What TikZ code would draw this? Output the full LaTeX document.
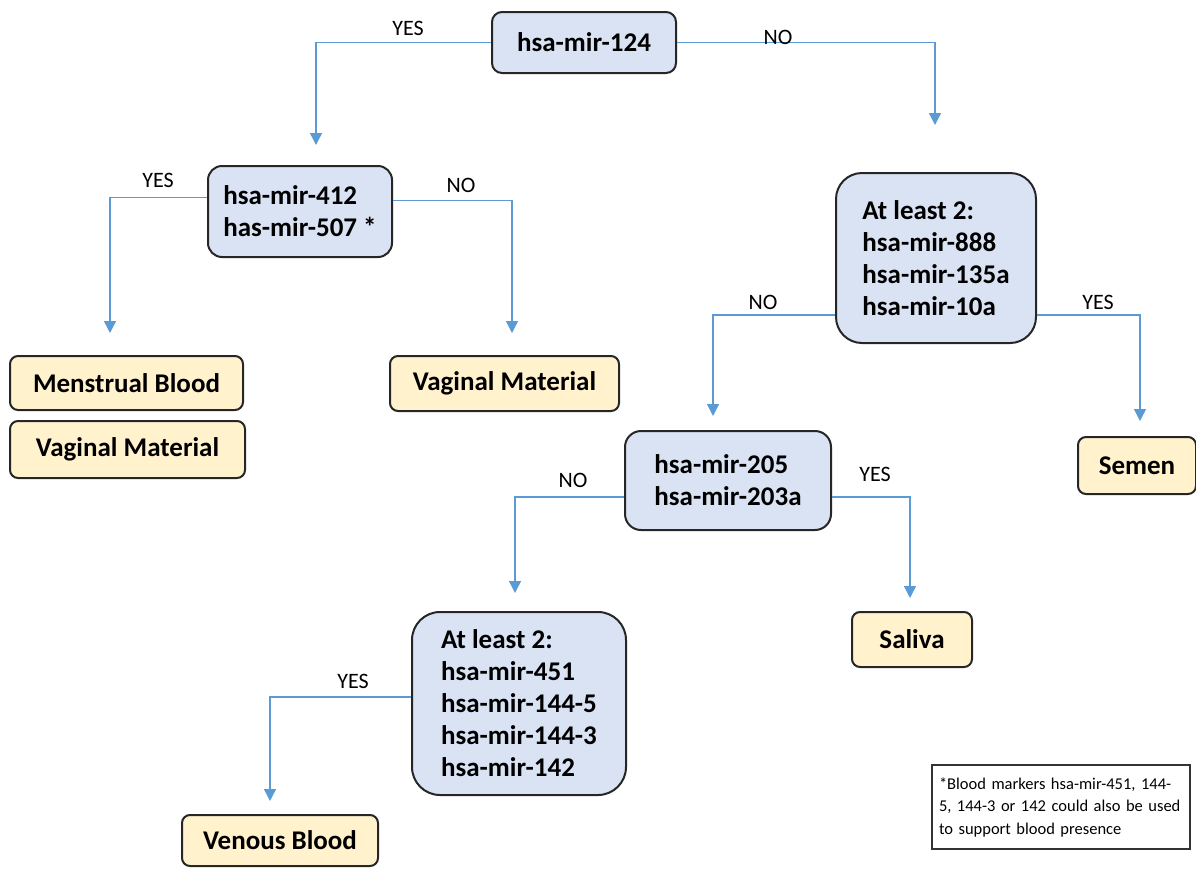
\documentclass[tikz,border=0pt]{standalone}
\usepackage{fontspec}
\setmainfont{Carlito}
\usetikzlibrary{arrows.meta}
\definecolor{qfill}{HTML}{DAE3F3}
\definecolor{ofill}{HTML}{FFF2CC}
\definecolor{linkc}{HTML}{5B9BD5}
\begin{document}
\begin{tikzpicture}[x=1pt,y=-1pt,
  qbox/.style={draw=black!85, line width=2pt, fill=qfill, rounded corners=#1, inner sep=0pt,
    font=\fontsize{27}{32}\selectfont\bfseries, align=left},
  obox/.style={draw=black!85, line width=2pt, fill=ofill, rounded corners=8pt, inner sep=0pt,
    font=\fontsize{27}{32}\selectfont\bfseries, align=center},
  lbl/.style={font=\fontsize{22}{24}\selectfont, inner sep=0pt},
  arr/.style={draw=linkc, line width=1.4pt, -{Triangle[width=12pt,length=12pt]}},
  note/.style={draw=black!80, line width=1.2pt, fill=white, inner sep=0pt, align=left,
    font=\fontsize{16.5}{22.5}\selectfont}
]
\useasboundingbox (0,0) rectangle (1196,868);

% question boxes
\node[qbox=10pt, minimum width=184pt, minimum height=61pt] (n1) at (584,42.5) {hsa-mir-124};
\node[qbox=14pt, minimum width=184pt, minimum height=91pt] (n2) at (300,211.5) {hsa-mir-412\\ has-mir-507 *};
\node[qbox=26pt, minimum width=200pt, minimum height=170pt] (n3) at (936,258) {At least 2:\\hsa-mir-888\\hsa-mir-135a\\hsa-mir-10a};
\node[qbox=16pt, minimum width=206pt, minimum height=99pt] (n4) at (728,480.5) {hsa-mir-205\\hsa-mir-203a};
\node[qbox=28pt, minimum width=214pt, minimum height=183pt] (n5) at (519,703.5) {At least 2:\\hsa-mir-451\\hsa-mir-144-5\\hsa-mir-144-3\\hsa-mir-142};

% outcome boxes
\node[obox, minimum width=233pt, minimum height=54pt] (mb) at (126.5,383) {Menstrual Blood};
\node[obox, minimum width=235pt, minimum height=57pt] (vm1) at (127.5,449.5) {Vaginal Material};
\node[obox, minimum width=229pt, minimum height=55pt] (vm2) at (504.5,383.5) {Vaginal Material};
\node[obox, minimum width=118pt, minimum height=57pt] (se) at (1137,465.5) {Semen};
\node[obox, minimum width=120pt, minimum height=55pt] (sa) at (912,639.5) {Saliva};
\node[obox, minimum width=196pt, minimum height=51pt] (vb) at (280,840.5) {Venous Blood};

% note
\node[note, minimum width=258pt, minimum height=84pt, text width=244pt] (nt) at (1061,807)
  {*Blood markers hsa-mir-451, 144-\\5, 144-3 or 142 could also be used\\to support blood presence};

% arrow end points
\coordinate (e1) at (316,145);
\coordinate (e2) at (935,125);
\coordinate (e3) at (110,333);
\coordinate (e4) at (512,333);
\coordinate (e5) at (713,416);
\coordinate (e6) at (1140,421);
\coordinate (e7) at (515,593);
\coordinate (e8) at (910,598);
\coordinate (e9) at (270,801);

% connectors
\draw[arr] (n1.west) -| (e1);
\draw[arr] (n1.east) -| (e2);
\draw[arr] ([yshift=14pt]n2.west) -| (e3);
\draw[arr] ([yshift=11pt]n2.east) -| (e4);
\draw[arr] ([yshift=-57pt]n3.west) -| (e5);
\draw[arr] ([yshift=-57pt]n3.east) -| (e6);
\draw[arr] ([yshift=-16.5pt]n4.west) -| (e7);
\draw[arr] ([yshift=-16.5pt]n4.east) -| (e8);
\draw[arr] ([yshift=6.5pt]n5.west) -| (e9);

% labels
\node[lbl] (l1) at (408,28) {YES};
\node[lbl] (l2) at (778,37) {NO};
\node[lbl] (l3) at (158,180) {YES};
\node[lbl] (l4) at (461,185) {NO};
\node[lbl] (l5) at (763,302) {NO};
\node[lbl] (l6) at (1098,302) {YES};
\node[lbl] (l7) at (573,480) {NO};
\node[lbl] (l8) at (875,474) {YES};
\node[lbl] (l9) at (353,681) {YES};
\end{tikzpicture}
\end{document}
